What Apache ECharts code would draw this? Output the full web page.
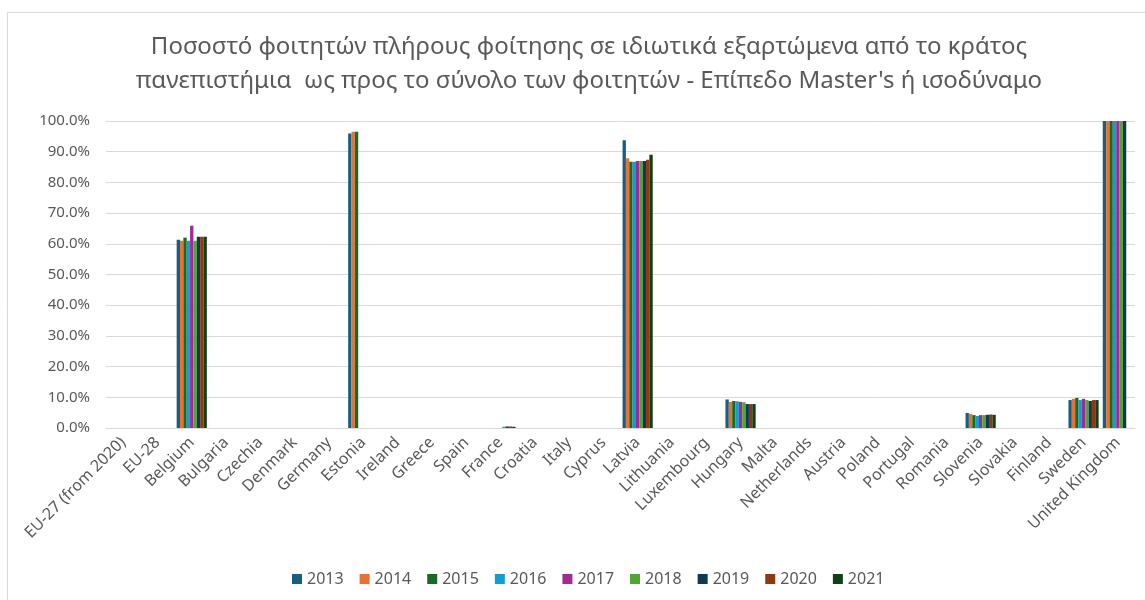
<!DOCTYPE html>
<html>
<head>
<meta charset="utf-8">
<script src="https://cdn.jsdelivr.net/npm/echarts@6/dist/echarts.min.js"></script>
<style>
  html, body { margin: 0; padding: 0; background: #fff; }
  #chart { width: 1145px; height: 600px; }
</style>
</head>
<body>
<div id="chart"></div>
<script>
// categories (countries) on the x axis
var countries = ['EU-27 (from 2020)', 'EU-28', 'Belgium', 'Bulgaria', 'Czechia', 'Denmark', 'Germany',
  'Estonia', 'Ireland', 'Greece', 'Spain', 'France', 'Croatia', 'Italy', 'Cyprus', 'Latvia',
  'Lithuania', 'Luxembourg', 'Hungary', 'Malta', 'Netherlands', 'Austria', 'Poland', 'Portugal',
  'Romania', 'Slovenia', 'Slovakia', 'Finland', 'Sweden', 'United Kingdom'];

var years = ['2013', '2014', '2015', '2016', '2017', '2018', '2019', '2020', '2021'];

// one array per year, same order as countries (null = no value)
var _ = null;
var y2013 = [_, _, 61.3, _, _, _, _, 95.9, _, _, _, _, _, _, _, 93.7, _, _, 9.3, _, _, _, _, _, _, 4.9, _, _, 9.1, 100];
var y2014 = [_, _, 61.0, _, _, _, _, 96.5, _, _, _, _, _, _, _, 87.9, _, _, 8.5, _, _, _, _, _, _, 4.6, _, _, 9.5, 100];
var y2015 = [_, _, 62.0, _, _, _, _, 96.5, _, _, _, _, _, _, _, 86.7, _, _, 8.8, _, _, _, _, _, _, 4.2, _, _, 9.8, 100];
var y2016 = [_, _, 61.0, _, _, _, _, _, _, _, _, _, _, _, _, 86.7, _, _, 8.7, _, _, _, _, _, _, 3.9, _, _, 9.1, 100];
var y2017 = [_, _, 65.9, _, _, _, _, _, _, _, _, _, _, _, _, 87.0, _, _, 8.5, _, _, _, _, _, _, 4.2, _, _, 9.5, 100];
var y2018 = [_, _, 61.0, _, _, _, _, _, _, _, _, 0.4, _, _, _, 87.0, _, _, 8.4, _, _, _, _, _, _, 4.2, _, _, 9.1, 100];
var y2019 = [_, _, 62.3, _, _, _, _, _, _, _, _, 0.5, _, _, _, 87.0, _, _, 7.8, _, _, _, _, _, _, 4.3, _, _, 8.8, 100];
var y2020 = [_, _, 62.3, _, _, _, _, _, _, _, _, 0.5, _, _, _, 87.4, _, _, 7.8, _, _, _, _, _, _, 4.4, _, _, 9.1, _];
var y2021 = [_, _, 62.3, _, _, _, _, _, _, _, _, 0.4, _, _, _, 89.0, _, _, 7.8, _, _, _, _, _, _, 4.3, _, _, 9.1, _];

var yearData = [y2013, y2014, y2015, y2016, y2017, y2018, y2019, y2020, y2021];
var colors = ['#156082', '#E97132', '#196B24', '#0F9ED5', '#A02B93', '#4EA72E', '#0B3A52', '#8E3A0E', '#0F4016'];

var series = years.map(function (yr, i) {
    return {
        name: yr,
        type: 'bar',
        data: yearData[i],
        barGap: '0%',
        barCategoryGap: '12%',
        itemStyle: { color: colors[i] }
    };
});

var font = "'Noto Sans', sans-serif";
var chart = echarts.init(document.getElementById('chart'));
chart.setOption({
    animation: false,
    color: colors,
    title: {
        text: 'Ποσοστό φοιτητών πλήρους φοίτησης σε ιδιωτικά εξαρτώμενα από το κράτος\nπανεπιστήμια  ως προς το σύνολο των φοιτητών - Επίπεδο Master\'s ή ισοδύναμο',
        left: 584,
        textAlign: 'center',
        top: 25,
        textStyle: { color: '#595959', fontSize: 24, fontWeight: 'normal', fontFamily: font, lineHeight: 34 }
    },
    graphic: [{
        type: 'rect',
        shape: { x: 7.5, y: 12.5, width: 1200, height: 700 },
        style: { fill: 'none', stroke: '#d9d9d9', lineWidth: 1 },
        silent: true
    }],
    legend: {
        bottom: 8,
        left: 287,
        itemWidth: 10,
        itemHeight: 10,
        itemGap: 16,
        icon: 'rect',
        textStyle: { color: '#595959', fontSize: 16, fontFamily: font }
    },
    grid: { left: 106, right: 10, top: 121, bottom: 172, containLabel: false },
    xAxis: {
        type: 'category',
        data: countries,
        axisLine: { lineStyle: { color: '#d9d9d9', width: 1 } },
        axisTick: { show: false },
        axisLabel: { interval: 0, rotate: 45, color: '#595959', fontSize: 16, fontFamily: font, margin: 12 }
    },
    yAxis: {
        type: 'value',
        min: 0,
        max: 100,
        interval: 10,
        axisLine: { show: false },
        axisTick: { show: false },
        splitLine: { lineStyle: { color: '#d9d9d9', width: 1 } },
        axisLabel: {
            color: '#595959', fontSize: 15, fontFamily: font, margin: 16,
            formatter: function (v) { return v.toFixed(1) + '%'; }
        }
    },
    series: series
});
</script>
</body>
</html>
